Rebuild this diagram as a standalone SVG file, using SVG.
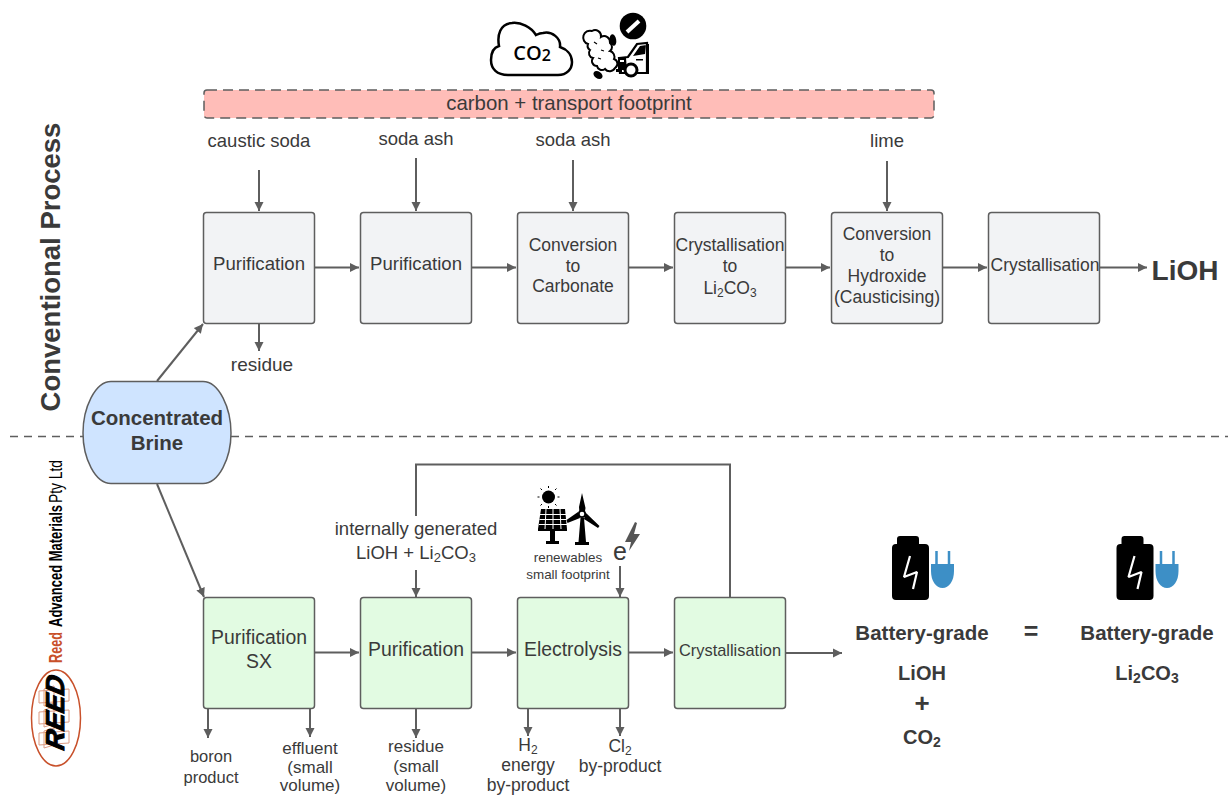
<svg xmlns="http://www.w3.org/2000/svg" width="1228" height="796" viewBox="0 0 1228 796">
<style>
text{font-family:"Liberation Sans",Arial,sans-serif;fill:#3a3a3a;text-anchor:middle}
.box{fill:#f2f3f5;stroke:#5e5e5e;stroke-width:1.5}
.gbox{fill:#e2fbe2;stroke:#5e5e5e;stroke-width:1.5}
.c{fill:none;stroke:#5e5e5e;stroke-width:2;marker-end:url(#a)}
.l{fill:none;stroke:#5e5e5e;stroke-width:2}
.t17{font-size:17px}.t175{font-size:17.5px}.t185{font-size:18.5px}.t19{font-size:19.4px}.t205{font-size:20.5px}
.b{font-weight:bold}
.k{fill:#000}
.p{fill:#3d8fc6}
</style>
<defs>
<marker id="a" markerUnits="userSpaceOnUse" markerWidth="10" markerHeight="10" refX="9" refY="5" orient="auto"><path d="M0,0.5L9,5L0,9.5Z" fill="#5e5e5e"/></marker>
<g id="batt">
<path class="k" d="M8,0h16a3,3 0 0 1 3,3v5h6a4,4 0 0 1 4,4v48a4,4 0 0 1-4,4H4a4,4 0 0 1-4-4V12a4,4 0 0 1 4-4h1V3a3,3 0 0 1 3-3Z"/>
<path d="M18,20L12,41L25,36L21,53" fill="none" stroke="#fff" stroke-width="2.200" stroke-linejoin="bevel"/>
<path class="p" d="M39,28h23v7c0,10-5,17-11.500,17S39,45,39,35Z"/>
<path d="M44.500,15V29M57,15V29" stroke="#3d8fc6" stroke-width="2.500" fill="none"/>
</g>
</defs>

<g id="divider"><path d="M10,436.500H83M231,436.500H1228" fill="none" stroke="#5e5e5e" stroke-width="1.500" stroke-dasharray="8 6"/></g>

<g id="connectors">
<path class="c" d="M157,381L203,324"/>
<path class="c" d="M157,484L204,597"/>
<path class="c" d="M259,170V211"/>
<path class="c" d="M416,158V211"/>
<path class="c" d="M573,160V211"/>
<path class="c" d="M887,161V211"/>
<path class="c" d="M315,267.500H359"/>
<path class="c" d="M472,267.500H516"/>
<path class="c" d="M629,267.500H673"/>
<path class="c" d="M786,267.500H830"/>
<path class="c" d="M943,267.500H987"/>
<path class="c" d="M1100,267.500H1147"/>
<path class="c" d="M259,324V351"/>
<path class="c" d="M315,652.500H359"/>
<path class="c" d="M472,652.500H516"/>
<path class="c" d="M629,652.500H673"/>
<path class="c" d="M786,653H842"/>
<path class="c" d="M208,709V738"/>
<path class="c" d="M310,709V737"/>
<path class="c" d="M416,709V738"/>
<path class="c" d="M528,709V736"/>
<path class="c" d="M620,709V736"/>
<path class="c" d="M620,566V597"/>
<path class="c" d="M416,570V597"/>
<path class="l" d="M730,597V464.500H416V516"/>
</g>

<g id="footprint"><rect x="204" y="90" width="730" height="28" rx="3" fill="#ffbdb8" stroke="#5e5e5e" stroke-width="1.500" stroke-dasharray="10 6"/><text x="569" y="110" font-size="20.400">carbon + transport footprint</text></g>

<g id="co2-icon">
<path d="M508,75H558C567,75 572,69 572,62C572,54 566,49 560,47C561,38 552,31 543,33C540,33 538,34 536,35C531,27 521,22 512,23C500,24 497,35 499,46C492,48 491,55 491,60C491,69 497,75 508,75Z" fill="#fff" stroke="#000" stroke-width="2.500"/>
<text x="532" y="60" style="font-family:'Open Sans',sans-serif;fill:#000" font-size="20" font-weight="600">CO<tspan font-size="16" dy="1">2</tspan></text>
</g>
<g id="truck-icon">
<path d="M592,31A6,6 0 0 1 601,37A6,6 0 0 1 610,43A5,5 0 0 1 610,51A6,6 0 0 1 614,59A5,5 0 0 1 615,68A6,6 0 0 1 605,69A5,5 0 0 1 597,66A5,5 0 0 1 593,58A5,5 0 0 1 590,50A5,5 0 0 1 588,44A6,6 0 0 1 592,31Z" fill="#fff" stroke="#000" stroke-width="2"/>
<path d="M594,42l3,2M601,50l3,1M598,58l3,1" stroke="#000" stroke-width="1.200" fill="none"/>
<ellipse cx="613" cy="40" rx="3.200" ry="5.800" class="k" transform="rotate(-10 613 40)"/>
<ellipse cx="598" cy="75" rx="5" ry="3.500" class="k" transform="rotate(35 598 75)"/>
<path d="M619,58L628,57L637,44L647,43V73H620Z" fill="#fff" stroke="#000" stroke-width="2.200"/>
<path class="k" d="M633,56L640,46L646,45L645,54ZM618,58H626L627,70H618ZM646,44H649V74H646ZM616,69H622V72H616Z"/>
<path d="M620,60h4v2h-4Z" fill="#fff"/>
<path d="M636,59h7v1.500h-7Z" fill="#000"/>
<circle cx="631" cy="70" r="6" fill="#fff" stroke="#000" stroke-width="3"/>
<circle cx="633" cy="26" r="13.300" class="k"/>
<path d="M627,32L639,21" stroke="#fff" stroke-width="4"/>
</g>

<g id="labels-top">
<text x="259" y="147" class="t185">caustic soda</text>
<text x="416" y="145" class="t185">soda ash</text>
<text x="573" y="146" class="t185">soda ash</text>
<text x="887" y="147" class="t185">lime</text>
<text x="262" y="371" font-size="19">residue</text>
</g>

<g id="title"><text transform="translate(60,267) rotate(-90)" font-size="27.500" class="b">Conventional Process</text></g>

<g id="n1"><rect class="box" x="203.500" y="212.500" width="111" height="111" rx="3"/><text x="259" y="270" font-size="18.600">Purification</text></g>
<g id="n2"><rect class="box" x="360.500" y="212.500" width="111" height="111" rx="3"/><text x="416" y="270" font-size="18.600">Purification</text></g>
<g id="n3"><rect class="box" x="517.500" y="212.500" width="111" height="111" rx="3"/><text class="t175"><tspan x="573" y="251">Conversion</tspan><tspan x="573" y="272">to</tspan><tspan x="573" y="292">Carbonate</tspan></text></g>
<g id="n4"><rect class="box" x="674.500" y="212.500" width="111" height="111" rx="3"/><text class="t175"><tspan x="730" y="251">Crystallisation</tspan><tspan x="730" y="272">to</tspan><tspan x="730" y="294">Li<tspan font-size="12" dy="3">2</tspan><tspan dy="-3">CO</tspan><tspan font-size="12" dy="3">3</tspan></tspan></text></g>
<g id="n5"><rect class="box" x="831.500" y="212.500" width="111" height="111" rx="3"/><text class="t175"><tspan x="887" y="240">Conversion</tspan><tspan x="887" y="261">to</tspan><tspan x="887" y="282">Hydroxide</tspan><tspan x="887" y="303">(Causticising)</tspan></text></g>
<g id="n6"><rect class="box" x="988.500" y="212.500" width="111" height="111" rx="3"/><text x="1045" y="271" class="t175">Crystallisation</text></g>
<g id="lioh"><text x="1185" y="280" font-size="28" class="b">LiOH</text></g>

<g id="brine"><path d="M111,381.500H203C219,381.500 231,408 231,433C231,458 219,483.500 203,483.500H111C95,483.500 83,458 83,433C83,408 95,381.500 111,381.500Z" fill="#cfe4ff" stroke="#5e5e5e" stroke-width="1.500"/><text class="t205 b"><tspan x="157" y="425">Concentrated</tspan><tspan x="157" y="450">Brine</tspan></text></g>

<g id="logo">
<text transform="translate(62,663) rotate(-90)" style="text-anchor:start;fill:#c8502a" font-size="19" font-weight="bold" textLength="31" lengthAdjust="spacingAndGlyphs">Reed</text>
<text transform="translate(62,627) rotate(-90)" style="text-anchor:start;fill:#000" font-size="19" font-weight="bold" textLength="122" lengthAdjust="spacingAndGlyphs">Advanced Materials</text>
<text transform="translate(62,503) rotate(-90)" style="text-anchor:start;fill:#000" font-size="19" textLength="43" lengthAdjust="spacingAndGlyphs">Pty Ltd</text>
<ellipse cx="56" cy="718" rx="24.500" ry="48" fill="#fff" stroke="#c8502a" stroke-width="1.500"/>
<path d="M39,691L69,689V701L39,703ZM39,712L69,710V722L39,724ZM39,733L69,731V743L39,745ZM44,689L54,686V703L44,706ZM44,710L54,707V724L44,727ZM44,731L54,728V745L44,748Z" fill="none" stroke="#dc9c84" stroke-width="1"/>
<text transform="translate(64,714) rotate(-90) skewX(-12)" style="fill:#000;stroke:#000;stroke-width:1" font-size="26" font-weight="bold" font-style="italic" textLength="74" lengthAdjust="spacingAndGlyphs">REED</text>
</g>

<g id="g1"><rect class="gbox" x="203.500" y="597.500" width="111" height="111" rx="3"/><text class="t19"><tspan x="259" y="644">Purification</tspan><tspan x="259" y="668">SX</tspan></text></g>
<g id="g2"><rect class="gbox" x="360.500" y="597.500" width="111" height="111" rx="3"/><text x="416" y="656" class="t19">Purification</text></g>
<g id="g3"><rect class="gbox" x="517.500" y="597.500" width="111" height="111" rx="3"/><text x="573" y="656" class="t19">Electrolysis</text></g>
<g id="g4"><rect class="gbox" x="674.500" y="597.500" width="111" height="111" rx="3"/><text x="730" y="656" style="font-size:16.400px">Crystallisation</text></g>

<g id="labels-bottom">
<text class="t185"><tspan x="416" y="535">internally generated</tspan><tspan x="416" y="559">LiOH + Li<tspan font-size="13" dy="3">2</tspan><tspan dy="-3">CO</tspan><tspan font-size="13" dy="3">3</tspan></tspan></text>
<text style="font-size:13.400px"><tspan x="568" y="562">renewables</tspan><tspan x="568" y="579">small footprint</tspan></text>
<text x="620" y="560" font-size="25">e</text>
<path d="M635,522L625,542H631L629,551L640,534H634L637,523Z" fill="#555"/>
<text font-size="16.500"><tspan x="211" y="762">boron</tspan><tspan x="211" y="783">product</tspan></text>
<text class="t17"><tspan x="310" y="754">effluent</tspan><tspan x="310" y="773">(small</tspan><tspan x="310" y="791">volume)</tspan></text>
<text class="t17"><tspan x="416" y="752">residue</tspan><tspan x="416" y="772">(small</tspan><tspan x="416" y="791">volume)</tspan></text>
<text class="t175"><tspan x="528" y="751">H<tspan font-size="12" dy="3">2</tspan></tspan><tspan x="528" y="771">energy</tspan><tspan x="528" y="791">by-product</tspan></text>
<text class="t175"><tspan x="620" y="752">Cl<tspan font-size="12" dy="3">2</tspan></tspan><tspan x="620" y="772">by-product</tspan></text>
</g>

<g id="renew-icon">
<circle cx="548.500" cy="497" r="6.500" class="k"/>
<path d="M548.500,488v-2M548.500,506v2M539.500,497h-2M557.500,497h2M542,490l-1.500-1.500M555,490l1.500-1.500M542,504l-1.500 1.500M555,504l1.500 1.500" stroke="#000" stroke-width="1"/>
<path class="k" d="M541,509H565L567,529H538Z"/>
<path d="M540,514.500h26M539.500,519.500h27M539,524.500h28M546,509l-1,20M553,509v20M560,509l1,20" stroke="#fff" stroke-width="1"/>
<path class="k" d="M538,529h29v2H538ZM550,531h5v10h-5ZM546,541h13v3h-13Z"/>
<path class="k" d="M582,493L585.500,508L584.500,514L579.500,513L579,507ZM580.500,518h3.500l2,24h3v3h-14v-3h3.500ZM586,513L599.500,526L598,528L584,519ZM578,512L566.500,520L567.500,523L580,518Z"/>
<circle cx="582" cy="514" r="3.200" fill="#fff" stroke="#000" stroke-width="1.800"/>
</g>

<g id="results">
<use href="#batt" x="892" y="536"/>
<use href="#batt" x="1116.500" y="536"/>
<text x="922" y="640" class="t205 b">Battery-grade</text>
<text x="1147" y="640" class="t205 b">Battery-grade</text>
<text x="1031" y="640" font-size="25" class="b">=</text>
<text x="922" y="680" font-size="20" class="b">LiOH</text>
<text x="922" y="712" font-size="26" class="b">+</text>
<text x="922" y="744" font-size="20" class="b">CO<tspan font-size="14" dy="3">2</tspan></text>
<text x="1147" y="680" font-size="20" class="b">Li<tspan font-size="14" dy="3">2</tspan><tspan dy="-3">CO</tspan><tspan font-size="14" dy="3">3</tspan></text>
</g>
</svg>
